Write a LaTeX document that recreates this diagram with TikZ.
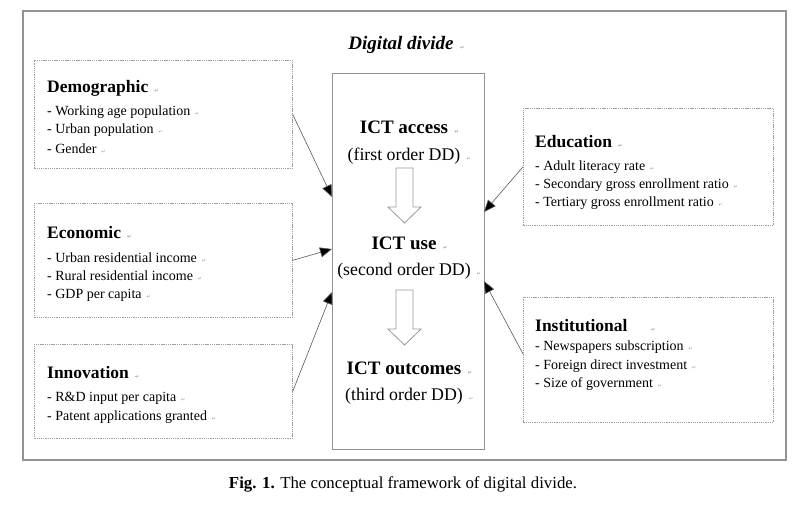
\documentclass[tikz,border=0pt]{standalone}
\usepackage{fontspec}
\setmainfont{Liberation Serif}
\newfontfamily\markfont{DejaVu Sans}
\usetikzlibrary{arrows.meta}
\newcommand\pmk{\hspace{0.35em}{\markfont\fontsize{5}{5}\selectfont\color{gray!80}↵}}
\begin{document}
\begin{tikzpicture}[x=1pt,y=-1pt,
  dbox/.style={draw=gray!75, dash pattern=on 1.3pt off 0.9pt, line width=0.7pt, inner sep=0, anchor=north west},
  corebox/.style={draw=gray!85, line width=0.8pt, inner sep=0, anchor=north west},
  headt/.style={font=\bfseries\fontsize{17.5}{20}\selectfont, anchor=west, inner sep=0},
  itemt/.style={font=\fontsize{14}{16}\selectfont, anchor=west, inner sep=0},
  coret/.style={font=\bfseries\fontsize{19}{22}\selectfont, inner sep=0},
  orders/.style={font=\fontsize{17.8}{21}\selectfont, inner sep=0},
  infl/.style={draw=black!65, line width=0.6pt, -{Triangle[length=12pt,width=10pt,fill=black]}},
  hollow/.style={draw=gray!80, line width=0.8pt, fill=white},
  frame/.style={draw=gray!85, line width=1.3pt}
]
\useasboundingbox (0,0) rectangle (808,512);
\fill[white] (0,0) rectangle (808,512);

% outer frame
\draw[frame] (23,11) rectangle (786,460);

% title
\node[font=\bfseries\itshape\fontsize{19}{22}\selectfont, inner sep=0] (title) at (401,45) {Digital divide\rlap{\pmk}};

% central box
\node[corebox, minimum width=152pt, minimum height=376pt] (core) at (332,73) {};

\node[coret] (acc) at (404,127) {ICT access\rlap{\pmk}};
\node[orders] (acco) at (404,156) {(first order DD)\rlap{\pmk}};
\node[coret] (use) at (404,243) {ICT use\rlap{\pmk}};
\node[orders] (useo) at (404,271) {(second order DD)\rlap{\pmk}};
\node[coret] (out) at (404,368) {ICT outcomes\rlap{\pmk}};
\node[orders] (outo) at (404,396) {(third order DD)\rlap{\pmk}};

% hollow arrows
\draw[hollow] (396,168) -- (413,168) -- (413,207) -- (421,207) -- (404.5,223) -- (388,207) -- (396,207) -- cycle;
\draw[hollow] (396,290) -- (413,290) -- (413,329) -- (421,329) -- (404.5,345) -- (388,329) -- (396,329) -- cycle;

% left boxes
\node[dbox, minimum width=258pt, minimum height=108pt] (demo) at (34,60) {};
\node[headt] (demoh) at (47,88) {Demographic\pmk};
\node[itemt] (demo1) at (47,112) {- Working age population\pmk};
\node[itemt] (demo2) at (47,130) {- Urban population\pmk};
\node[itemt] (demo3) at (47,149) {- Gender\pmk};

\node[dbox, minimum width=258pt, minimum height=114pt] (econ) at (34,203) {};
\node[headt] (econh) at (47,233) {Economic\pmk};
\node[itemt] (econ1) at (47,258) {- Urban residential income\pmk};
\node[itemt] (econ2) at (47,276) {- Rural residential income\pmk};
\node[itemt] (econ3) at (47,295) {- GDP per capita\pmk};

\node[dbox, minimum width=258pt, minimum height=94pt] (inno) at (34,344) {};
\node[headt] (innoh) at (47,373) {Innovation\pmk};
\node[itemt] (inno1) at (47,398) {- R\&D input per capita\pmk};
\node[itemt] (inno2) at (47,417) {- Patent applications granted\pmk};

% right boxes
\node[dbox, minimum width=250pt, minimum height=117pt] (educ) at (523,108) {};
\node[headt] (educh) at (535,142) {Education\pmk};
\node[itemt] (educ1) at (535,167) {- Adult literacy rate\pmk};
\node[itemt] (educ2) at (535,185) {- Secondary gross enrollment ratio\pmk};
\node[itemt] (educ3) at (535,203) {- Tertiary gross enrollment ratio\pmk};

\node[dbox, minimum width=250pt, minimum height=125pt] (inst) at (523,297) {};
\node[headt] (insth) at (535,326) {Institutional\hspace{1em}\pmk};
\node[itemt] (inst1) at (535,347) {- Newspapers subscription\pmk};
\node[itemt] (inst2) at (535,366) {- Foreign direct investment\pmk};
\node[itemt] (inst3) at (535,384) {- Size of government\pmk};

% arrow end points on the central box
\coordinate (eDemo) at (332,197);
\coordinate (eEcon) at (332,249);
\coordinate (eInno) at (332,292);
\coordinate (eEduc) at (484,212);
\coordinate (eInst) at (484,281);

\draw[infl] (demo.east) -- (eDemo);
\draw[infl] (econ.east) -- (eEcon);
\draw[infl] (inno.east) -- (eInno);
\draw[infl] (educ.west) -- (eEduc);
\draw[infl] (inst.west) ++(0,-6) coordinate (sInst) (sInst) -- (eInst);

% caption
\node[font=\fontsize{16.8}{19}\selectfont, inner sep=0] (cap) at (403,484) {\textbf{Fig. 1.} The conceptual framework of digital divide.};
\end{tikzpicture}
\end{document}
